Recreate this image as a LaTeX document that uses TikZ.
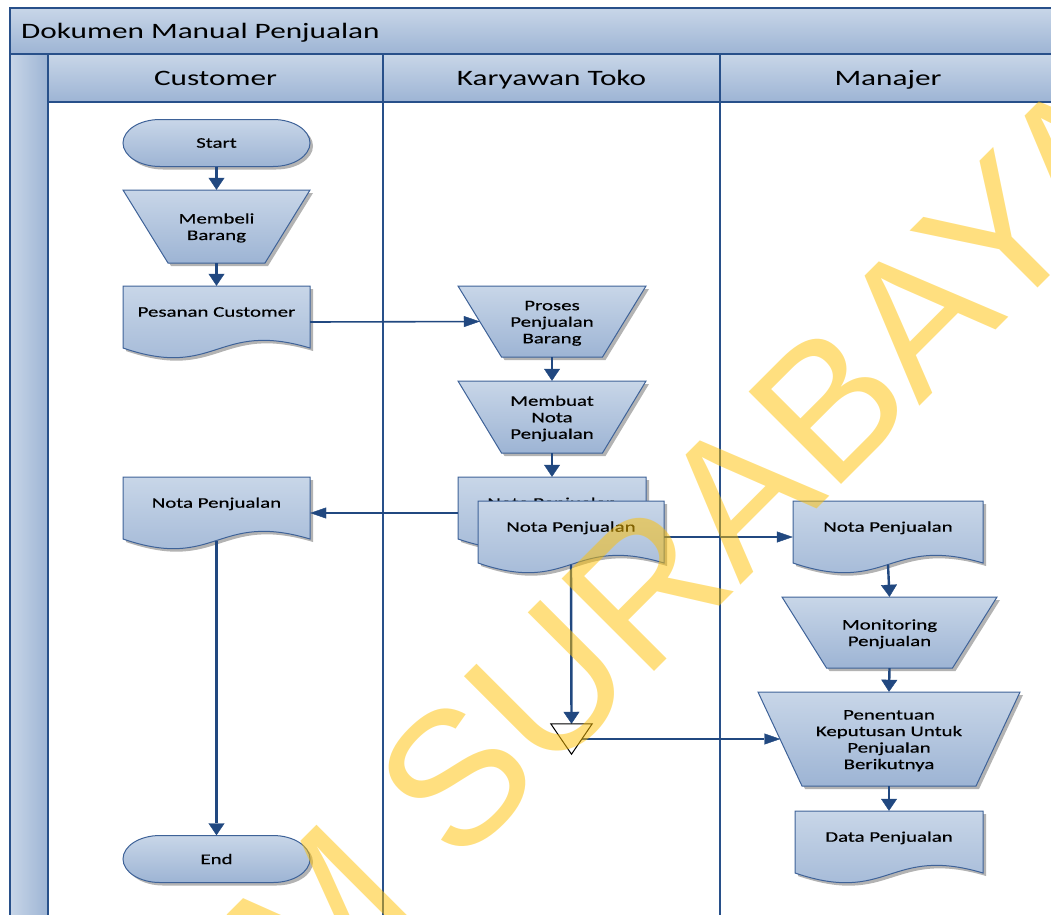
\documentclass[tikz,border=0pt]{standalone}
\usepackage{fontspec}
\setmainfont{Carlito}[FakeStretch=1.42]
\newfontfamily\lblfont{Carlito}[FakeStretch=1.42,FakeBold=0.4]
\newfontfamily\wmfont{Liberation Sans}
\usetikzlibrary{arrows.meta}

\definecolor{laneblue}{RGB}{40,80,138}
\definecolor{edgeblue}{RGB}{62,98,152}
\definecolor{gradtop}{RGB}{200,214,232}
\definecolor{gradbot}{RGB}{157,180,212}
\definecolor{arrowblue}{RGB}{33,72,128}
\definecolor{wmyellow}{RGB}{255,192,0}

\tikzset{
  laneline/.style={draw=laneblue, line width=1.8pt},
  shapebody/.style={top color=gradtop, bottom color=gradbot, draw=edgeblue, line width=1pt},
  shadowbody/.style={fill=black!40, draw=none, opacity=0.75},
  lbl/.style={font=\lblfont\fontsize{14.7}{16.5}\selectfont, align=center, inner sep=0pt, text=black},
  head/.style={font=\fontsize{22}{26}\selectfont, inner sep=0pt, text=black, text height=15pt, text depth=0pt},
  vflow/.style={draw=arrowblue, line width=2.4pt, -{Triangle[length=12pt,width=16pt,line width=0.4pt]}},
  hflow/.style={draw=arrowblue, line width=1.6pt, -{Triangle[length=16pt,width=11pt,line width=0.4pt]}},
  wm/.style={font=\wmfont\fontsize{190}{190}\selectfont, text=wmyellow, text opacity=0.5, inner sep=0pt, outer sep=0pt},
}

% outlines of the flowchart symbols (x to the right, y downwards, 1 unit = 1pt)
\newcommand\termpath[3]{% centre x, centre y, half width
  (#1-#3+37,#2-23.5) -- (#1+#3-37,#2-23.5)
  arc[start angle=90,end angle=-90,x radius=37pt,y radius=23.5pt]
  -- (#1-#3+37,#2+23.5)
  arc[start angle=270,end angle=90,x radius=37pt,y radius=23.5pt] -- cycle}
\newcommand\trappath[5]{% centre x, top y, half top width, half bottom width, height
  (#1-#3,#2) -- (#1+#3,#2) -- (#1+#4,#2+#5) -- (#1-#4,#2+#5) -- cycle}
\newcommand\docpath[3]{% centre x, top y, half width
  (#1-#3,#2) -- (#1+#3,#2) -- (#1+#3,#2+62)
  .. controls (#1,#2+34) and (#1,#2+94) .. (#1-#3,#2+62) -- cycle}

% complete symbols: shadow, shaded body, named label node
\newcommand\terminator[4]{%
  \fill[shadowbody,shift={(3,3)}] \termpath{#2}{#3}{93.5};
  \path[shapebody] \termpath{#2}{#3}{93.5};
  \node[lbl,minimum width=187pt,minimum height=47pt] (#1) at (#2,#3) {#4};}
\newcommand\manualop[7]{%
  \fill[shadowbody,shift={(3,3)}] \trappath{#2}{#3}{#4}{#5}{#6};
  \path[shapebody] \trappath{#2}{#3}{#4}{#5}{#6};
  \node[lbl,minimum width={(2*#4)*1pt},minimum height={#6*1pt}] (#1) at (#2,#3+#6/2) {\rule{0pt}{13pt}#7\rule[-1pt]{0pt}{1pt}};}
\newcommand\docshape[5]{%
  \fill[shadowbody,shift={(3,3)}] \docpath{#2}{#3}{#4};
  \path[shapebody] \docpath{#2}{#3}{#4};
  \node[lbl,text height=10pt,text depth=20.6pt,minimum width={(2*#4)*1pt},minimum height=72pt] (#1) at (#2,#3+36) {#5};}

\begin{document}
\begin{tikzpicture}[x=1pt,y=-1pt]
\useasboundingbox (0,0) rectangle (1051,914);
\clip (0,0) rectangle (1051,914);

% pool: title bar, lane headers, side strip
\shade[top color=gradtop,bottom color=gradbot] (10,8) rectangle (1056,54);
\shade[top color=gradtop,bottom color=gradbot] (48,54) rectangle (1056,102);
\shade[left color=gradtop,right color=gradbot] (10,54) rectangle (48,930);
\draw[laneline,line width=1.4pt] (10,8) rectangle (1056,930);
\draw[laneline,line width=1.4pt] (10,54) -- (1056,54);
\draw[laneline,line width=1.4pt] (48,102) -- (1056,102);
\draw[laneline] (48,54) -- (48,930);
\draw[laneline] (383,54) -- (383,930);
\draw[laneline] (720,54) -- (720,930);

\node[head,anchor=west] (title) at (21,31) {Dokumen Manual Penjualan};
\node[head] (laneA) at (215.5,78) {Customer};
\node[head] (laneB) at (551.5,78) {Karyawan Toko};
\node[head] (laneC) at (888,78) {Manajer};

% Customer
\terminator{start}{216.5}{143}{Start}
\manualop{membeli}{216.5}{190}{93.5}{48.5}{73}{Membeli\\Barang}
\docshape{pesanan}{216.5}{286}{93.5}{Pesanan Customer}
\docshape{notacust}{216.5}{477}{93.5}{Nota Penjualan}
\terminator{end}{216.5}{859}{End}

% Karyawan Toko
\manualop{proses}{552}{286}{94}{50.5}{71}{Proses\\Penjualan\\Barang}
\manualop{membuat}{552}{381}{94}{50.5}{72}{Membuat\\Nota\\Penjualan}
\docshape{notaback}{552}{477}{94}{Nota Penjualan}
\docshape{notafront}{571}{501}{93}{Nota Penjualan}
\node[minimum width=41pt,minimum height=30pt,inner sep=0pt] (tri) at (571.5,739) {};

% Manajer
\docshape{notamgr}{888}{501}{95}{Nota Penjualan}
\manualop{monitor}{889.5}{597}{107.5}{63}{71}{Monitoring\\Penjualan}
\manualop{penentuan}{889}{692}{131}{87}{94}{Penentuan\\Keputusan Untuk\\Penjualan\\Berikutnya}
\docshape{datapj}{889}{811}{94}{Data Penjualan}

% flow
\draw[vflow] (start.south) -- (membeli.north);
\draw[vflow] (membeli.south) -- (pesanan.north);
\draw[hflow] (pesanan.east) -- ([xshift=22pt]proses.west);
\draw[vflow] (proses.south) -- (membuat.north);
\draw[vflow] (membuat.south) -- (notaback.north);
\draw[hflow] (notaback.west) -- (notacust.east);
\draw[vflow] ([yshift=8.5pt]notacust.south) -- (end.north);
\draw[hflow] (notafront.east) -- (notamgr.west);
\draw[vflow] ([yshift=8.5pt]notafront.south) -- (tri.north);
\draw[hflow] (tri.center) -- ([xshift=22.5pt]penentuan.west);
\draw[vflow] ([yshift=8.5pt]notamgr.south) -- (monitor.north);
\draw[vflow] (monitor.south) -- (penentuan.north);
\draw[vflow] (penentuan.south) -- (datapj.north);

% offline file symbol
\draw[black,line width=1pt,fill=white] (tri.north west) -- (tri.north east) -- (tri.south) -- cycle;

% watermark
\node[wm,rotate=45,anchor=base west] (mark) at (308,1018) {M SURABAYA};
\end{tikzpicture}
\end{document}
